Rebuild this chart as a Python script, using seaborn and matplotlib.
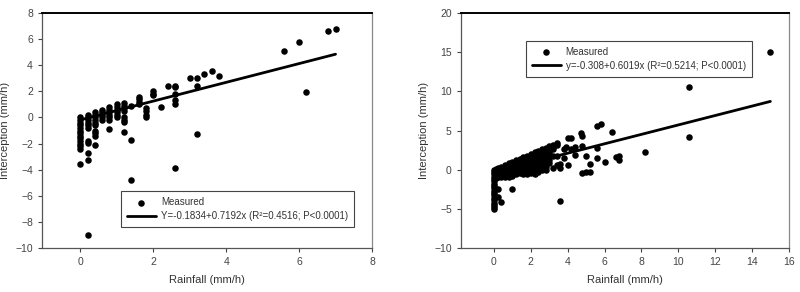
import pandas as pd
import matplotlib
matplotlib.use("Agg")
import matplotlib.pyplot as plt
import seaborn as sns

# left panel: rainfall columns and the interception values measured in each
left_rain = [0.0, 0.2, 0.4, 0.6, 0.8, 1.0, 1.2, 1.4, 1.6, 1.8, 2.0, 2.2, 2.4, 2.6,
             3.0, 3.2, 3.4, 3.6, 3.8, 5.6, 6.0, 6.2, 6.8, 7.0]
left_icpt = [
    [0, -0.2, -0.4, -0.6, -0.8, -1.0, -1.2, -1.4, -1.6, -1.8, -2.0, -2.2, -2.4, -3.55],
    [0.2, 0, -0.2, -0.4, -0.6, -0.8, -1.8, -1.95, -2.7, -3.25, -9.0],
    [0.4, 0.2, 0, -0.2, -0.4, -0.6, -1.0, -1.2, -1.4, -2.1],
    [0.6, 0.4, 0.2, 0, -0.2],
    [0.8, 0.6, 0.4, 0.2, 0, -0.2, -0.9],
    [1.0, 0.8, 0.6, 0.4, 0.2, 0],
    [1.1, 0.9, 0.7, 0.5, 0, -0.2, -0.35, -1.15],
    [0.9, -1.7, -4.8],
    [1.6, 1.4, 1.2, 1.0],
    [0.7, 0.5, 0.2, 0],
    [2.0, 1.8, 1.7],
    [0.8],
    [2.4],
    [2.45, 2.3, 1.8, 1.35, 1.05, -3.85],
    [3.0],
    [3.0, 2.4, -1.3],
    [3.35],
    [3.55],
    [3.2],
    [5.1],
    [5.75],
    [1.95],
    [6.65],
    [6.75],
]
left_fit = (-0.1834, 0.7192)
left_fit_range = [0, 7]
left_label = "Y=-0.1834+0.7192x (R²=0.4516; P<0.0001)"

# right panel
right_rain = [0.0, 0.1, 0.2, 0.4, 0.6, 0.8, 1.0, 1.2, 1.4, 1.6, 1.8, 2.0, 2.2, 2.4,
              2.6, 2.8, 3.0, 3.2, 3.4, 3.6, 3.8, 3.9, 4.0, 4.2, 4.4, 4.7, 4.8,
              5.0, 5.2, 5.6, 5.8, 6.0, 6.4, 6.6, 6.8, 8.2, 10.6, 15.0]
right_icpt = [
    [0, -0.3, -0.6, -0.9, -1.2, -1.5, -1.8, -2.1, -2.4, -2.7, -3.0, -3.3, -3.6,
     -3.9, -4.2, -4.5, -4.8, -5.05],
    [0.1, -0.2, -0.5, -0.8, -1.1],
    [0.2, -0.1, -0.4, -0.7, -1.0, -2.5, -3.5],
    [0.4, 0.1, -0.2, -0.5, -0.8, -1.0, -4.1],
    [0.6, 0.3, 0, -0.3, -0.6, -0.9],
    [0.8, 0.5, 0.2, -0.1, -0.4, -0.7, -1.0],
    [1.0, 0.7, 0.4, 0.1, -0.2, -0.5, -0.8, -2.5],
    [1.2, 0.9, 0.6, 0.3, 0, -0.3, -0.6],
    [1.4, 1.1, 0.8, 0.5, 0.2, -0.1, -0.4],
    [1.6, 1.3, 1.0, 0.7, 0.4, 0.1, -0.2, -0.5],
    [1.8, 1.5, 1.2, 0.9, 0.6, 0.3, 0, -0.3, -0.5],
    [2.0, 1.7, 1.4, 1.1, 0.8, 0.5, 0.2, -0.1, -0.4],
    [2.2, 1.9, 1.6, 1.3, 1.0, 0.7, 0.4, 0.1, -0.2, -0.5],
    [2.4, 2.1, 1.8, 1.5, 1.2, 0.9, 0.6, 0.3, 0, -0.3],
    [2.6, 2.3, 2.0, 1.7, 1.4, 1.1, 0.8, 0.5, 0.2, -0.1],
    [2.8, 2.5, 2.2, 1.9, 1.6, 1.0, 0.4, 0],
    [3.0, 2.7, 2.4, 2.1, 1.2, 0.8],
    [3.2, 2.9, 2.6, 1.8, 0.2],
    [3.4, 3.1, 1.7, 0.6],
    [0.2, 0.7, -3.95],
    [1.5, 2.7],
    [2.9],
    [4.1, 0.55],
    [4.1, 2.6],
    [1.9, 2.9],
    [4.7],
    [4.3, 3.0, -0.4],
    [1.7, -0.3],
    [0.75, -0.3],
    [5.6, 2.75, 1.5],
    [5.8],
    [0.95],
    [4.8],
    [1.6],
    [1.7, 1.2],
    [2.3],
    [10.6, 4.15],
    [15.0],
]
right_fit = (-0.308, 0.6019)
right_fit_range = [0, 15]
right_label = "y=-0.308+0.6019x (R²=0.5214; P<0.0001)"


def to_frame(rain, icpt):
    rows = [(r, v) for r, vals in zip(rain, icpt) for v in vals]
    return pd.DataFrame(rows, columns=["Rainfall", "Interception"])


def fit_frame(coef, xr):
    return pd.DataFrame({"Rainfall": xr,
                         "Interception": [coef[0] + coef[1] * x for x in xr]})


sns.set_style("white")
plt.rcParams["font.family"] = ["Liberation Sans", "DejaVu Sans"]

fig = plt.figure(figsize=(8, 2.92), dpi=100)
ax1 = fig.add_axes([0.0525, 0.151, 0.4125, 0.804])
ax2 = fig.add_axes([0.576, 0.151, 0.41, 0.804])

panels = [
    (ax1, to_frame(left_rain, left_icpt), fit_frame(left_fit, left_fit_range), left_label,
     (-1.05, 8), (-10, 8), range(0, 9, 2), range(-10, 9, 2),
     dict(loc="lower right", bbox_to_anchor=(0.945, 0.089))),
    (ax2, to_frame(right_rain, right_icpt), fit_frame(right_fit, right_fit_range), right_label,
     (-1.8, 16), (-10, 20), range(0, 17, 2), range(-10, 21, 5),
     dict(loc="upper left", bbox_to_anchor=(0.198, 0.881))),
]

for ax, pts, fit, lab, xl, yl, xt, yt, legkw in panels:
    sns.scatterplot(data=pts, x="Rainfall", y="Interception", ax=ax, color="black",
                    s=22, linewidth=0, label="Measured")
    sns.lineplot(data=fit, x="Rainfall", y="Interception", ax=ax, color="black",
                 linewidth=2, label=lab)
    ax.set_xlim(*xl)
    ax.set_ylim(*yl)
    ax.set_xticks(list(xt))
    ax.set_yticks(list(yt))
    ax.set_xlabel("Rainfall (mm/h)", fontsize=8, color="#333333", labelpad=6)
    ax.set_ylabel("Interception (mm/h)", fontsize=8, color="#333333", labelpad=4)
    ax.tick_params(axis="both", direction="out", length=3, width=0.8, labelsize=7.5,
                   colors="#444444", left=True, bottom=True)
    ax.spines["top"].set_color("black")
    ax.spines["top"].set_linewidth(1.4)
    ax.spines["right"].set_color("#888888")
    ax.spines["right"].set_linewidth(0.9)
    for side in ["left", "bottom"]:
        ax.spines[side].set_color("#555555")
        ax.spines[side].set_linewidth(0.9)
    leg = ax.legend(fontsize=7, frameon=True, fancybox=False, framealpha=1,
                    edgecolor="#444444", handlelength=3.0, borderpad=0.6,
                    labelspacing=0.4, handletextpad=0.5, borderaxespad=0, **legkw)
    leg.get_frame().set_linewidth(0.8)
    for t in leg.get_texts():
        t.set_color("#333333")

plt.savefig("out.png", dpi=100)
